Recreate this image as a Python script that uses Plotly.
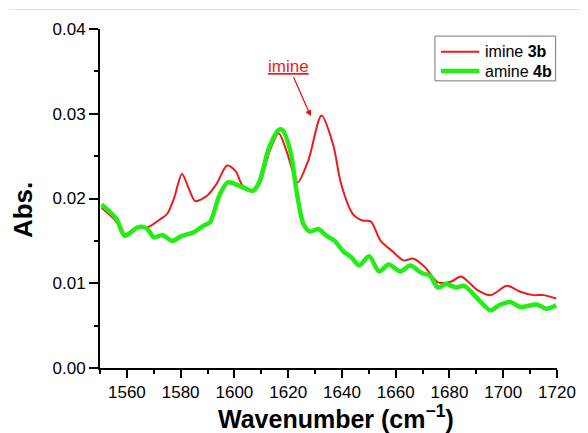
import plotly.graph_objects as go

# imine 3b (red)
imine_x = [1550.6, 1556.0, 1559.2, 1564.0, 1567.7, 1572.6, 1575.0, 1577.5, 1580.5, 1583.0, 1585.4, 1589.7,
           1593.3, 1597.3, 1600.5, 1603.1, 1606.8, 1609.5, 1613.0, 1616.5, 1619.5, 1623.5, 1627.5, 1632.4,
           1636.7, 1639.7, 1644.0, 1647.7, 1650.7, 1654.4, 1658.7, 1662.9, 1666.6, 1670.9, 1675.7, 1680.7,
           1684.3, 1690.4, 1695.3, 1701.4, 1706.3, 1711.2, 1714.8, 1719.7]
imine_y = [0.0189, 0.0173, 0.0158, 0.0166, 0.0166, 0.0176, 0.0182, 0.0200, 0.0229, 0.0212, 0.0197, 0.0203,
           0.0217, 0.0239, 0.0232, 0.0215, 0.0209, 0.0218, 0.0255, 0.0277, 0.0255, 0.0219, 0.0245, 0.0298,
           0.0264, 0.0217, 0.0182, 0.0174, 0.0173, 0.0150, 0.0138, 0.0127, 0.0129, 0.0119, 0.0101, 0.0102,
           0.0108, 0.0092, 0.0086, 0.0097, 0.0090, 0.0086, 0.0086, 0.0082]

# amine 4b (green)
amine_x = [1550.6, 1556.1, 1559.2, 1564.0, 1567.3, 1570.1, 1573.2, 1576.8, 1580.5, 1584.8, 1588.5, 1590.9,
           1594.6, 1597.6, 1601.9, 1606.8, 1609.2, 1612.9, 1616.5, 1617.8, 1620.8, 1623.3, 1625.7, 1628.1,
           1631.2, 1634.2, 1637.3, 1640.4, 1643.4, 1646.4, 1650.1, 1653.8, 1657.4, 1661.7, 1665.4, 1669.7,
           1672.7, 1675.7, 1678.8, 1682.5, 1685.5, 1690.4, 1695.3, 1698.4, 1702.6, 1706.3, 1712.4, 1716.0,
           1719.7]
amine_y = [0.0193, 0.0176, 0.0156, 0.0166, 0.0165, 0.0154, 0.0157, 0.0150, 0.0156, 0.0160, 0.0168, 0.0172,
           0.0205, 0.0219, 0.0215, 0.0209, 0.0219, 0.0260, 0.0281, 0.0281, 0.0256, 0.0205, 0.0170, 0.0161,
           0.0164, 0.0156, 0.0150, 0.0138, 0.0131, 0.0121, 0.0132, 0.0114, 0.0122, 0.0114, 0.0121, 0.0112,
           0.0109, 0.0095, 0.0099, 0.0095, 0.0097, 0.0082, 0.0068, 0.0074, 0.0078, 0.0072, 0.0075, 0.0070,
           0.0074]

x_ticks = [1560, 1580, 1600, 1620, 1640, 1660, 1680, 1700, 1720]
y_ticks = [0.00, 0.01, 0.02, 0.03, 0.04]

series_names = ['imine <b>3b</b>', 'amine <b>4b</b>']
red = '#ee1a1a'
green = '#22ee14'
font_family = "Arial, Liberation Sans, sans-serif"

fig = go.Figure()

fig.add_trace(go.Scatter(
    x=imine_x, y=imine_y, mode='lines', name=series_names[0],
    line=dict(color=red, width=2, shape='spline', smoothing=0.8)
))
fig.add_trace(go.Scatter(
    x=amine_x, y=amine_y, mode='lines', name=series_names[1],
    line=dict(color=green, width=4.5, shape='spline', smoothing=0.8)
))

# 箭頭標註
fig.add_annotation(
    x=1628.4, y=0.0297, xref='x', yref='y',
    text='<u>imine</u>', showarrow=True, arrowhead=2, arrowsize=1, arrowwidth=1.2,
    arrowcolor='#dd1111', ax=-22, ay=-50,
    font=dict(color=red, size=17, family=font_family)
)

# 手繪圖例 (框 + 線段 + 文字)
fig.add_shape(type='rect', xref='paper', yref='paper', x0=0.733, x1=0.997, y0=0.847, y1=0.979,
              line=dict(color='#777777', width=1), fillcolor='white', layer='above')
for i, (name, col, w) in enumerate([(series_names[0], red, 2), (series_names[1], green, 4.5)]):
    yy = 0.933 - i * 0.057
    fig.add_shape(type='line', xref='paper', yref='paper', x0=0.746, x1=0.830, y0=yy, y1=yy,
                  line=dict(color=col, width=w), layer='above')
    fig.add_annotation(x=0.838, y=yy, xref='paper', yref='paper', text=name, showarrow=False,
                       xanchor='left', yanchor='middle', font=dict(size=16, color='black', family=font_family))

# 軸標題
fig.add_annotation(x=-0.167, y=0.465, xref='paper', yref='paper', text='<b>Abs.</b>', showarrow=False,
                   textangle=-90, xanchor='center', yanchor='middle',
                   font=dict(size=26, color='black', family=font_family))
fig.add_annotation(x=0.517, y=-0.091, xref='paper', yref='paper', text='<b>Wavenumber (cm<sup>−1</sup>)</b>',
                   showarrow=False, xanchor='center', yanchor='top',
                   font=dict(size=25, color='black', family=font_family))

# 頂部淡灰線
fig.add_shape(type='line', xref='paper', yref='paper', x0=-0.2, x1=1.06, y0=1.0574, y1=1.0574,
              line=dict(color='#e0e0e0', width=1))

fig.update_xaxes(
    range=[1550, 1720], tickvals=x_ticks, ticks='outside', ticklen=8, tickwidth=1.5, tickcolor='black',
    minor=dict(ticks='outside', ticklen=4, dtick=10, tick0=1550, tickcolor='black', tickwidth=1.5),
    showline=True, linecolor='black', linewidth=2, showgrid=False, zeroline=False,
    tickfont=dict(size=17, color='black', family=font_family)
)
fig.update_yaxes(
    range=[0, 0.04], tickvals=y_ticks, tickformat='.2f', ticks='outside', ticklen=9, tickwidth=1.5,
    tickcolor='black',
    minor=dict(ticks='outside', ticklen=4, dtick=0.005, tick0=0, tickcolor='black', tickwidth=1.5),
    showline=True, linecolor='black', linewidth=2, showgrid=False, zeroline=False,
    tickfont=dict(size=17, color='black', family=font_family)
)

fig.update_layout(
    width=580, height=425, plot_bgcolor='white', paper_bgcolor='white',
    margin=dict(l=92, r=24, t=20, b=65),
    font=dict(family=font_family, color='black'),
    showlegend=False
)

fig.write_html("out.html")
